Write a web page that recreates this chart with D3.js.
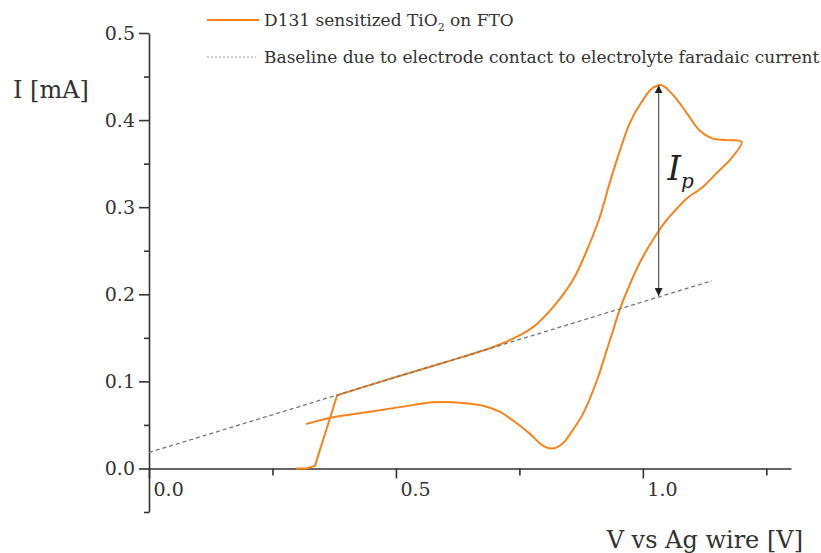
<!DOCTYPE html>
<html>
<head>
<meta charset="utf-8">
<script src="https://cdn.jsdelivr.net/npm/d3@7"></script>
<style>
    body { margin: 0; background: #fff; }
    text { font-family: "DejaVu Serif", serif; fill: #333; }
</style>
</head>
<body>
<svg id="cv"></svg>
<script>
// cyclic voltammogram (V, mA), in scan order
let scanV = [0.298, 0.318, 0.336, 0.381, 0.50, 0.60, 0.70, 0.751, 0.777, 0.818,
    0.858, 0.887, 0.913, 0.933, 0.953, 0.974, 1.000, 1.020, 1.038, 1.061,
    1.089, 1.115, 1.140, 1.170, 1.200,
    1.176, 1.156, 1.121, 1.089, 1.065, 1.048, 1.030, 1.000, 0.974, 0.953,
    0.940, 0.927, 0.907, 0.879, 0.858, 0.838, 0.818, 0.798, 0.771, 0.737,
    0.711, 0.676, 0.616, 0.575, 0.514, 0.447, 0.366, 0.318];
let scanI = [0.000, 0.000, 0.003, 0.084, 0.105, 0.122, 0.140, 0.153, 0.162, 0.185,
    0.216, 0.251, 0.289, 0.328, 0.364, 0.397, 0.423, 0.437, 0.440, 0.429,
    0.408, 0.388, 0.379, 0.377, 0.375,
    0.354, 0.343, 0.323, 0.310, 0.296, 0.285, 0.271, 0.243, 0.212, 0.182,
    0.159, 0.136, 0.101, 0.063, 0.044, 0.029, 0.023, 0.026, 0.040, 0.055,
    0.065, 0.072, 0.076, 0.076, 0.071, 0.065, 0.058, 0.051];
// index of the sharp kink where the trace meets the baseline
let kink = 3;

// faradaic baseline
let baseV = [0.0, 1.14];
let baseI = [0.0184, 0.2155];

// peak current arrow
let peakV = 1.032;
let peakTop = 0.440;
let peakBottom = 0.198;

let xMajor = [0.0, 0.5, 1.0];
let xMinor = [0.25, 0.75, 1.25];
let yMajor = [0.0, 0.1, 0.2, 0.3, 0.4, 0.5];
let yMinor = [-0.05, 0.05, 0.15, 0.25, 0.35, 0.45];

let legendLabels = ["D131 sensitized TiO", "Baseline due to electrode contact to electrolyte faradaic current"];

let W = 821, H = 553;
let orange = "#f7821b";

let svg = d3.select("#cv").attr("width", W).attr("height", H);

let x = d3.scaleLinear().domain([0, 1.3]).range([149, 791]);
let y = d3.scaleLinear().domain([-0.05, 0.5]).range([512, 33]);

function drawAxes() {
    // x axis sits on I = 0
    let gx = svg.append("g")
        .attr("transform", "translate(0," + y(0) + ")");
    gx.call(d3.axisBottom(x).tickValues(xMajor).tickSize(10).tickSizeOuter(0)
        .tickFormat(d3.format(".1f")));
    gx.append("g").call(d3.axisBottom(x).tickValues(xMinor).tickSize(7).tickFormat(""))
        .select(".domain").remove();
    gx.selectAll("text")
        .attr("text-anchor", "start")
        .attr("dx", 4)
        .attr("y", 14)
        .attr("dy", "0.71em")
        .style("font-size", "19px");

    let gy = svg.append("g")
        .attr("transform", "translate(" + x(0) + ",0)");
    gy.call(d3.axisLeft(y).tickValues(yMajor).tickSize(10).tickSizeOuter(0)
        .tickFormat(d3.format(".1f")));
    gy.append("g").call(d3.axisLeft(y).tickValues(yMinor).tickSize(5).tickFormat(""))
        .select(".domain").remove();
    gy.selectAll("text")
        .attr("x", -14)
        .style("font-size", "19px");

    svg.selectAll(".domain, .tick line")
        .attr("stroke", "#333")
        .attr("stroke-width", 1.6);
    svg.selectAll(".tick text").style("fill", "#333").style("font-family", "DejaVu Serif");

    svg.append("text")
        .attr("x", 13)
        .attr("y", 98)
        .style("font-size", "24px")
        .text("I [mA]");
    svg.append("text")
        .attr("x", 803)
        .attr("y", 548)
        .attr("text-anchor", "end")
        .style("font-size", "24px")
        .text("V vs Ag wire [V]");
}

function drawCurves() {
    let basePts = baseV.map(function (v, i) { return [v, baseI[i]]; });
    let scanPts = scanV.map(function (v, i) { return [v, scanI[i]]; });
    let line = d3.line()
        .x(function (d) { return x(d[0]); })
        .y(function (d) { return y(d[1]); });

    // straight rise up to the kink, smooth loop after it
    let d = line.curve(d3.curveLinear)(scanPts.slice(0, kink + 1)) +
        line.curve(d3.curveCatmullRom.alpha(0.5))(scanPts.slice(kink)).replace(/^M/, "L");

    svg.append("path")
        .attr("d", d)
        .attr("fill", "none")
        .attr("stroke", orange)
        .attr("stroke-width", 2)
        .attr("stroke-linejoin", "round");

    svg.append("path")
        .attr("d", line.curve(d3.curveLinear)(basePts))
        .attr("fill", "none")
        .attr("stroke", "#777")
        .attr("stroke-width", 1.3)
        .attr("stroke-dasharray", "4,3");
}

function drawArrow() {
    let defs = svg.append("defs");
    defs.append("marker")
        .attr("id", "head")
        .attr("viewBox", "0 0 10 10")
        .attr("refX", 10)
        .attr("refY", 5)
        .attr("markerWidth", 8)
        .attr("markerHeight", 8)
        .attr("markerUnits", "userSpaceOnUse")
        .attr("orient", "auto-start-reverse")
        .append("path")
        .attr("d", "M0,0 L10,5 L0,10 z")
        .attr("fill", "#222");

    svg.append("line")
        .attr("x1", x(peakV)).attr("x2", x(peakV))
        .attr("y1", y(peakTop)).attr("y2", y(peakBottom))
        .attr("stroke", "#666")
        .attr("stroke-width", 1.3)
        .attr("marker-start", "url(#head)")
        .attr("marker-end", "url(#head)");

    let lab = svg.append("text")
        .attr("x", x(1.05))
        .attr("y", y(0.331))
        .style("font-size", "34px")
        .style("font-style", "italic")
        .style("fill", "#222")
        .text("I");
    lab.append("tspan")
        .attr("dy", 8)
        .style("font-size", "20px")
        .text("p");
}

function drawLegend() {
    svg.append("line")
        .attr("x1", 207).attr("x2", 259)
        .attr("y1", 20).attr("y2", 20)
        .attr("stroke", orange)
        .attr("stroke-width", 2);
    svg.append("line")
        .attr("x1", 207).attr("x2", 256)
        .attr("y1", 57).attr("y2", 57)
        .attr("stroke", "#999")
        .attr("stroke-width", 1.2)
        .attr("stroke-dasharray", "2,2");

    let t1 = svg.append("text")
        .attr("x", 264)
        .attr("y", 26)
        .style("font-size", "17px")
        .text(legendLabels[0]);
    t1.append("tspan").attr("dy", 5).style("font-size", "11px").text("2");
    t1.append("tspan").attr("dy", -5).text(" on FTO");

    svg.append("text")
        .attr("x", 264)
        .attr("y", 63)
        .style("font-size", "17px")
        .text(legendLabels[1]);
}

drawAxes();
drawCurves();
drawArrow();
drawLegend();
</script>
</body>
</html>
